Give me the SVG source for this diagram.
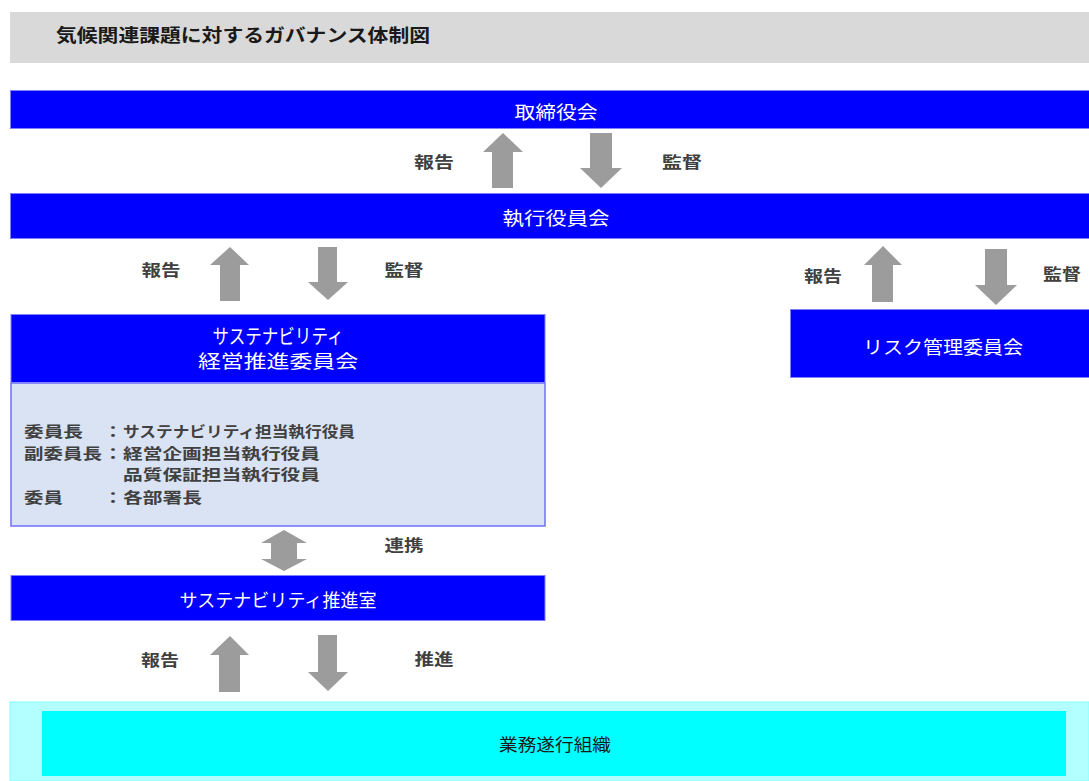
<svg xmlns="http://www.w3.org/2000/svg" width="1089" height="781" viewBox="0 0 1089 781">
<style>
text{font-family:"Noto Sans CJK JP","Noto Sans",sans-serif;dominant-baseline:central}
.bar{fill:#0000ff;stroke:#8080ff;stroke-width:1}
.wt{fill:#ffffff;font-size:18px;text-anchor:middle}
.lbl{fill:#404040;font-size:16px;font-weight:bold;text-anchor:middle}
.body{fill:#404040;font-size:15px;font-weight:bold}
.arr{fill:#9c9c9c}
</style>
<rect x="0" y="0" width="1089" height="781" fill="#ffffff"/>
<g id="title">
<rect x="10" y="12" width="1079" height="51" fill="#d9d9d9"/>
<text x="56" y="34" font-size="18" font-weight="bold" fill="#1a1a1a" textLength="374" lengthAdjust="spacingAndGlyphs">気候関連課題に対するガバナンス体制図</text>
</g>
<g id="board">
<rect class="bar" x="10.5" y="90.5" width="1079" height="38"/>
<text class="wt" x="556" y="111" textLength="83" lengthAdjust="spacingAndGlyphs">取締役会</text>
</g>
<g id="exec">
<rect class="bar" x="10.5" y="193.5" width="1079" height="45"/>
<text class="wt" x="556" y="217" textLength="107" lengthAdjust="spacingAndGlyphs">執行役員会</text>
</g>
<g id="committee">
<rect x="11" y="383" width="534" height="143" fill="#dae3f3" stroke="#6f6fff" stroke-width="1.5"/>
<rect class="bar" x="11" y="314.5" width="534" height="68"/>
<text class="wt" x="278" y="335" style="font-size:20px" textLength="131" lengthAdjust="spacingAndGlyphs">サステナビリティ</text>
<text class="wt" x="278" y="360" textLength="160" lengthAdjust="spacingAndGlyphs">経営推進委員会</text>
<text class="body" x="24" y="430" textLength="59" lengthAdjust="spacingAndGlyphs">委員長</text>
<text class="body" x="103" y="430" textLength="20" lengthAdjust="spacingAndGlyphs">：</text>
<text class="body" x="123" y="430" textLength="232" lengthAdjust="spacingAndGlyphs">サステナビリティ担当執行役員</text>
<text class="body" x="24" y="452" textLength="78" lengthAdjust="spacingAndGlyphs">副委員長</text>
<text class="body" x="103" y="452" textLength="20" lengthAdjust="spacingAndGlyphs">：</text>
<text class="body" x="123" y="452" textLength="197" lengthAdjust="spacingAndGlyphs">経営企画担当執行役員</text>
<text class="body" x="123" y="473" textLength="197" lengthAdjust="spacingAndGlyphs">品質保証担当執行役員</text>
<text class="body" x="24" y="496" textLength="39" lengthAdjust="spacingAndGlyphs">委員</text>
<text class="body" x="103" y="496" textLength="20" lengthAdjust="spacingAndGlyphs">：</text>
<text class="body" x="123" y="496" textLength="79" lengthAdjust="spacingAndGlyphs">各部署長</text>
</g>
<g id="risk">
<rect class="bar" x="790.5" y="309.5" width="299" height="68"/>
<text class="wt" x="943" y="346" textLength="160" lengthAdjust="spacingAndGlyphs">リスク管理委員会</text>
</g>
<g id="office">
<rect class="bar" x="11" y="575.5" width="534" height="45"/>
<text class="wt" x="278" y="599" textLength="197" lengthAdjust="spacingAndGlyphs">サステナビリティ推進室</text>
</g>
<g id="operations">
<rect x="10" y="702" width="1079" height="79" fill="#b3ffff" stroke="#80ffff" stroke-width="1"/>
<rect x="42" y="711" width="1024" height="65" fill="#00ffff"/>
<text x="555" y="743" font-size="17" fill="#1a1a1a" text-anchor="middle" textLength="112" lengthAdjust="spacingAndGlyphs">業務遂行組織</text>
</g>
<g id="connectors">
<polygon class="arr" points="503,133 523,152 513,152 513,188 492,188 492,152 483,152"/>
<polygon class="arr" points="590,133 612,133 612,168 622,168 601,188 580,168 590,168"/>
<polygon class="arr" points="230,247 249,265 240,265 240,301 220,301 220,265 210,265"/>
<polygon class="arr" points="318,247 337,247 337,282 348,282 328,300 308,282 318,282"/>
<polygon class="arr" points="883,246 902,265 893,265 893,302 872,302 872,265 864,265"/>
<polygon class="arr" points="985,249 1007,249 1007,285 1017,285 996,305 975,285 985,285"/>
<polygon class="arr" points="284,530 307,543 297,543 297,559 307,559 284,571 261,559 271,559 271,543 261,543"/>
<polygon class="arr" points="230,636 249,655 240,655 240,692 219,692 219,655 210,655"/>
<polygon class="arr" points="318,635 337,635 337,672 348,672 328,691 308,672 318,672"/>
<text class="lbl" x="434" y="161" textLength="40" lengthAdjust="spacingAndGlyphs">報告</text>
<text class="lbl" x="682" y="161" textLength="40" lengthAdjust="spacingAndGlyphs">監督</text>
<text class="lbl" x="161" y="269" textLength="39" lengthAdjust="spacingAndGlyphs">報告</text>
<text class="lbl" x="404" y="269" textLength="39" lengthAdjust="spacingAndGlyphs">監督</text>
<text class="lbl" x="823" y="275" textLength="38" lengthAdjust="spacingAndGlyphs">報告</text>
<text class="lbl" x="1062" y="273" textLength="38" lengthAdjust="spacingAndGlyphs">監督</text>
<text class="lbl" x="404" y="544" textLength="39" lengthAdjust="spacingAndGlyphs">連携</text>
<text class="lbl" x="160" y="659" textLength="38" lengthAdjust="spacingAndGlyphs">報告</text>
<text class="lbl" x="434" y="658" textLength="39" lengthAdjust="spacingAndGlyphs">推進</text>
</g>
</svg>
